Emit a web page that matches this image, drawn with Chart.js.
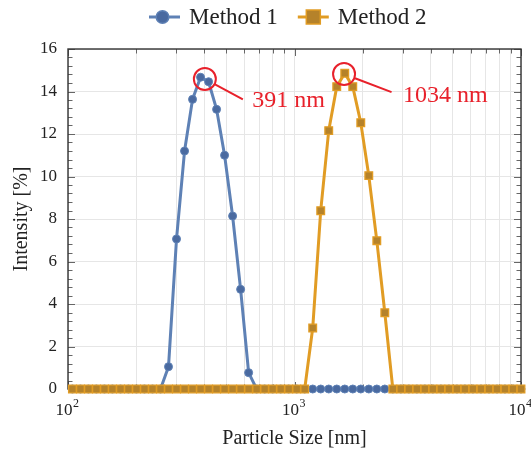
<!DOCTYPE html>
<html>
<head>
<meta charset="utf-8">
<script src="https://cdn.jsdelivr.net/npm/chart.js@4.4.1/dist/chart.umd.min.js"></script>
<style>
  html, body { margin: 0; padding: 0; background: #fff; }
  #wrap { width: 531px; height: 455px; }
</style>
</head>
<body>
<div id="wrap"><canvas id="sizeChart"></canvas></div>
<script>
// ===================
// Data
// ===================

// size bins [nm]
const sizes = [104.6, 113.5, 123.1, 133.5, 144.9, 157.1, 170.5, 184.9, 200.6, 217.6,
  236.1, 256.1, 277.8, 301.4, 327.0, 354.7, 384.8, 417.5, 452.9, 491.3,
  533.0, 578.2, 627.3, 680.5, 738.2, 800.9, 868.8, 942.5, 1022.5, 1109.3,
  1203.4, 1305.5, 1416.2, 1536.4, 1666.8, 1808.2, 1961.6, 2128.0, 2308.6, 2504.5,
  2717.0, 2947.5, 3197.6, 3468.9, 3763.2, 4082.5, 4428.9, 4804.7, 5212.4, 5654.7,
  6134.5, 6655.0, 7219.7, 7832.3, 8496.9, 9217.9, 10000];

// intensity [%]
const method1 = [0, 0, 0, 0, 0, 0, 0, 0, 0, 0,
  0, 0, 1.05, 7.06, 11.2, 13.63, 14.67, 14.46, 13.16, 11.0,
  8.14, 4.69, 0.77, 0, 0, 0, 0, 0, 0, 0,
  0, 0, 0, 0, 0, 0, 0, 0, 0, 0,
  0, 0, 0, 0, 0, 0, 0, 0, 0, 0,
  0, 0, 0, 0, 0, 0, 0];

const method2 = [0, 0, 0, 0, 0, 0, 0, 0, 0, 0,
  0, 0, 0, 0, 0, 0, 0, 0, 0, 0,
  0, 0, 0, 0, 0, 0, 0, 0, 0, 0,
  2.87, 8.39, 12.16, 14.23, 14.86, 14.23, 12.53, 10.04, 6.98, 3.59,
  0, 0, 0, 0, 0, 0, 0, 0, 0, 0,
  0, 0, 0, 0, 0, 0, 0];

const seriesNames = ['Method 1', 'Method 2'];
const peakLabels = ['391 nm', '1034 nm'];
const peakSizes = [402, 1655];
const peakValues = [14.59, 14.82];

const xDecades = [100, 1000, 10000];
const xMinors = [200, 300, 400, 500, 600, 700, 800, 900,
  2000, 3000, 4000, 5000, 6000, 7000, 8000, 9000];
const xTickValues = xDecades.concat(xMinors).sort((a, b) => a - b);

const serif = "'Liberation Serif', 'Times New Roman', serif";
const BLUE = '#5e81b5';
const ORANGE = '#e19c24';
const RED = '#e8212b';

// ===================
// Plugins
// ===================

// box frame with inward ticks on all four sides
const frameTicks = {
  id: 'frameTicks',
  beforeDatasetsDraw(chart) {
    const { ctx, chartArea: a, scales: { x, y } } = chart;
    ctx.save();
    ctx.strokeStyle = '#666';
    ctx.lineWidth = 1;
    ctx.beginPath();
    for (let i = 0; i <= 40; i++) {
      const py = Math.round(y.getPixelForValue(i * 0.4)) + 0.5;
      const len = i % 5 === 0 ? 7 : 4.5;
      ctx.moveTo(a.left, py); ctx.lineTo(a.left + len, py);
      ctx.moveTo(a.right, py); ctx.lineTo(a.right - len, py);
    }
    xTickValues.forEach(v => {
      const px = Math.round(x.getPixelForValue(v)) + 0.5;
      const len = xDecades.includes(v) ? 7 : 4.5;
      ctx.moveTo(px, a.bottom); ctx.lineTo(px, a.bottom - len);
      ctx.moveTo(px, a.top); ctx.lineTo(px, a.top + len);
    });
    ctx.stroke();
    ctx.strokeStyle = '#333';
    ctx.lineWidth = 1.4;
    ctx.strokeRect(a.left, a.top, a.right - a.left, a.bottom - a.top);
    ctx.restore();
  }
};

// 10^n labels with a raised exponent
const powerLabels = {
  id: 'powerLabels',
  afterDraw(chart) {
    const { ctx, chartArea: a, scales: { x } } = chart;
    ctx.save();
    ctx.fillStyle = '#222';
    ctx.textBaseline = 'alphabetic';
    xDecades.forEach(v => {
      const exp = String(Math.round(Math.log10(v)));
      ctx.font = '17px ' + serif;
      const wBase = ctx.measureText('10').width;
      ctx.font = '12px ' + serif;
      const wExp = ctx.measureText(exp).width;
      const left = x.getPixelForValue(v) - (wBase + wExp) / 2 - 1;
      ctx.font = '17px ' + serif;
      ctx.fillText('10', left, a.bottom + 26);
      ctx.font = '12px ' + serif;
      ctx.fillText(exp, left + wBase + 0.5, a.bottom + 18);
    });
    ctx.restore();
  }
};

// red circles + labels at the two peaks
const peakNotes = {
  id: 'peakNotes',
  afterDatasetsDraw(chart) {
    const { ctx, scales: { x, y } } = chart;
    const offsets = [
      { lx: 38, ly: 20.5, tx: 47.5, ty: 22 },
      { lx: 47.5, ly: 18, tx: 59, ty: 22 }
    ];
    ctx.save();
    ctx.strokeStyle = RED;
    ctx.fillStyle = RED;
    ctx.lineWidth = 2;
    ctx.font = '24px ' + serif;
    ctx.textBaseline = 'middle';
    peakLabels.forEach((txt, i) => {
      const cx = x.getPixelForValue(peakSizes[i]);
      const cy = y.getPixelForValue(peakValues[i]);
      const o = offsets[i];
      const r = 11;
      const d = Math.hypot(o.lx, o.ly);
      ctx.beginPath();
      ctx.arc(cx, cy, r, 0, Math.PI * 2);
      ctx.moveTo(cx + o.lx / d * r, cy + o.ly / d * r);
      ctx.lineTo(cx + o.lx, cy + o.ly);
      ctx.stroke();
      ctx.fillText(txt, cx + o.tx, cy + o.ty);
    });
    ctx.restore();
  }
};

// legend with line + marker symbols
const lineLegend = {
  id: 'lineLegend',
  afterDraw(chart) {
    const ctx = chart.ctx;
    let xPos = 149;
    const yPos = 17;
    ctx.save();
    ctx.font = '23px ' + serif;
    ctx.textBaseline = 'middle';
    chart.data.datasets.forEach(ds => {
      const mid = xPos + 15.5;
      ctx.strokeStyle = ds.borderColor;
      ctx.lineWidth = 3;
      ctx.beginPath();
      ctx.moveTo(xPos, yPos); ctx.lineTo(xPos + 31, yPos);
      ctx.stroke();
      ctx.fillStyle = ds.pointBackgroundColor;
      ctx.strokeStyle = ds.pointBorderColor;
      ctx.lineWidth = 1.5;
      ctx.beginPath();
      if (ds.pointStyle === 'rect') {
        ctx.rect(mid - 7, yPos - 7, 14, 14);
      } else {
        ctx.arc(mid - 2, yPos, 6.3, 0, Math.PI * 2);
      }
      ctx.fill();
      ctx.stroke();
      ctx.fillStyle = '#222';
      ctx.fillText(ds.label, xPos + 40, yPos + 1);
      xPos += 40 + ctx.measureText(ds.label).width + 20;
    });
    ctx.restore();
  }
};

// ===================
// Particle Size Chart
// ===================

Chart.defaults.font.family = serif;
Chart.defaults.color = '#222';

const ctx = document.getElementById('sizeChart').getContext('2d');
const chart = new Chart(ctx, {
  type: 'line',
  data: {
    datasets: [{
      label: seriesNames[0],
      data: sizes.map((s, i) => ({ x: s, y: method1[i] })),
      borderColor: BLUE,
      borderWidth: 3,
      pointStyle: 'circle',
      pointRadius: 4,
      pointBackgroundColor: '#4a6aa0',
      pointBorderColor: BLUE,
      pointBorderWidth: 1,
      order: 2,
      clip: false
    }, {
      label: seriesNames[1],
      data: sizes.map((s, i) => ({ x: s, y: method2[i] })),
      borderColor: ORANGE,
      borderWidth: 3,
      pointStyle: 'rect',
      pointRadius: 5.4,
      pointBackgroundColor: '#b5822a',
      pointBorderColor: ORANGE,
      pointBorderWidth: 1.3,
      order: 1,
      clip: false
    }]
  },
  options: {
    responsive: true,
    maintainAspectRatio: false,
    animation: false,
    layout: { padding: { top: 49, right: 10, left: 0, bottom: 0 } },
    plugins: {
      legend: { display: false },
      tooltip: { enabled: false }
    },
    scales: {
      x: {
        type: 'logarithmic',
        min: 100,
        max: 10000,
        afterBuildTicks: s => { s.ticks = xTickValues.map(v => ({ value: v })); },
        afterFit: s => { s.height = 66; s.paddingLeft = 0; s.paddingRight = 0; },
        grid: { color: '#e6e6e6', drawTicks: false },
        border: { display: false },
        ticks: {
          autoSkip: false,
          maxRotation: 0,
          padding: 9,
          font: { size: 17 },
          // drawn by powerLabels
          callback: () => ''
        },
        title: {
          display: true,
          text: 'Particle Size [nm]',
          font: { size: 20 },
          padding: { top: 4, bottom: 4 }
        }
      },
      y: {
        min: 0,
        max: 16,
        afterFit: s => { s.width = 68; },
        grid: { color: '#e6e6e6', drawTicks: false },
        border: { display: false },
        ticks: { stepSize: 2, padding: 11, font: { size: 17 } },
        title: {
          display: true,
          text: 'Intensity [%]',
          font: { size: 20 },
          padding: { top: 10, bottom: 0 }
        }
      }
    }
  },
  plugins: [frameTicks, peakNotes, powerLabels, lineLegend]
});
</script>
</body>
</html>
